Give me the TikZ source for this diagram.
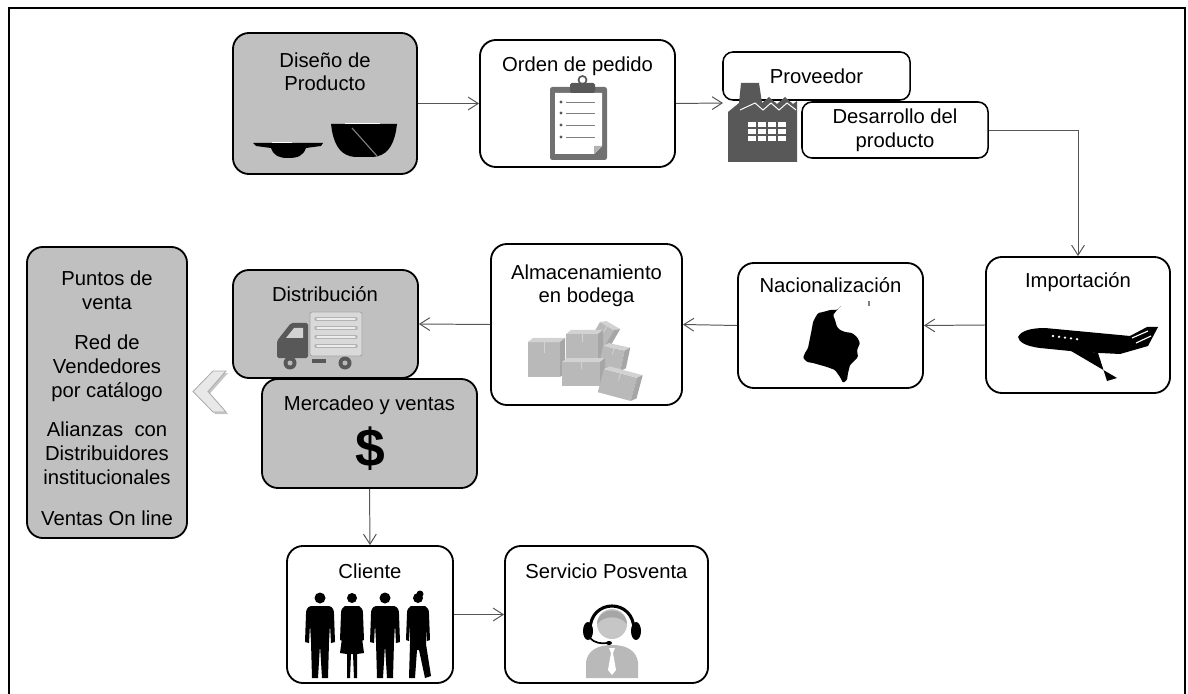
\documentclass[tikz,border=0pt]{standalone}
\usepackage{fontspec}
\setmainfont{Liberation Sans}
\usetikzlibrary{arrows.meta}
\definecolor{cajagris}{RGB}{192,192,192}
\definecolor{lineagris}{RGB}{85,85,85}
\definecolor{iconogris}{RGB}{88,88,88}

\begin{document}
\begin{tikzpicture}[x=0.025cm, y=-0.025cm]
\tikzset{every node/.style={font=\fontsize{14.4}{17}\selectfont},
  caja/.style={draw, line width=1.3pt, rounded corners=0.4cm, inner sep=0pt, fill=white},
  cajagr/.style={caja, fill=cajagris},
  cajita/.style={draw, line width=1.1pt, rounded corners=0.25cm, inner sep=0pt, fill=white, align=center},
  titulo/.style={anchor=base, align=center, inner sep=0pt},
  flecha/.style={draw=lineagris, line width=0.7pt, -{Straight Barb[length=0.25cm, width=0.32cm]}}}
\clip (0,0) rectangle (1188,694);
\draw[line width=1.5pt] (9,8) rectangle (1185,720);

% cajas (el texto de varias lineas va anclado en su ultima linea)
\node[cajagr, minimum width=4.6cm, minimum height=3.525cm] (diseno) at (325,103.5) {};
\node[titulo] (tdiseno) at (325,91) {Diseño de\\Producto};
\node[caja, minimum width=4.875cm, minimum height=3.175cm] (orden) at (577.5,103.5) {};
\node[titulo] (torden) at (577.5,72) {Orden de pedido};
\node[cajita, minimum width=4.675cm, minimum height=1.2cm] (proveedor) at (816.5,76) {Proveedor};
\node[caja, minimum width=4.6cm, minimum height=3.4cm] (importacion) at (1078,325) {};
\node[titulo] (timportacion) at (1078,288) {Importación};
\node[caja, minimum width=4.625cm, minimum height=3.125cm] (nacional) at (830.5,325.5) {};
\node[titulo] (tnacional) at (830.5,293) {Nacionalización};
\node[caja, minimum width=4.775cm, minimum height=4.025cm] (almacen) at (586.5,324.5) {};
\node[titulo] (talmacen) at (586.5,303) {Almacenamiento\\en bodega};
\node[cajagr, minimum width=4.625cm, minimum height=2.7cm] (distrib) at (325.5,324) {};
\node[titulo] (tdistrib) at (325,302) {Distribución};
\node[cajagr, minimum width=5.375cm, minimum height=2.725cm] (mercadeo) at (369.5,433.5) {};
\node[titulo] (tmercadeo) at (369.5,410) {Mercadeo y ventas};
\node[cajagr, minimum width=4cm, minimum height=7.275cm] (puntos) at (107,392.5) {};
\node[titulo] (tpuntos) at (107,525) {Puntos de\\venta\\[11pt]Red de\\Vendedores\\por catálogo\\[11pt]Alianzas~ con\\Distribuidores\\institucionales\\[12pt]Ventas On line};
\node[caja, minimum width=4.15cm, minimum height=3.425cm] (cliente) at (370,614.5) {};
\node[titulo] (tcliente) at (370,578) {Cliente};
\node[caja, minimum width=5.075cm, minimum height=3.425cm] (servicio) at (606.5,614.5) {};
\node[titulo] (tservicio) at (606.5,578) {Servicio Posventa};

% platos
\fill (253,143) -- (323,143) -- (321,146) -- (306,148) .. controls (303,156) and (298,158) .. (288,158) .. controls (279,158) and (274,156) .. (271,148) -- (256,146) -- cycle;
\draw[white, line width=0.5pt] (272,142.5) -- (292,142.5);
\fill (331,124) -- (397,124) -- (396,131) .. controls (393,147) and (386,156) .. (373,157) -- (355,157) .. controls (342,156) and (335,147) .. (332,131) -- cycle;
\draw[white, line width=0.6pt] (345,123.5) -- (380,123.5);
\draw[gray, line width=0.8pt] (352,128) -- (377,156);

% portapapeles
\fill[iconogris!85, rounded corners=0.06cm] (550,87) rectangle (607,160);
\fill[white] (555,93) -- (602,93) -- (602,146) -- (594,154) -- (555,154) -- cycle;
\fill[gray!60] (602,146) -- (594,154) -- (594,146) -- cycle;
\fill[iconogris, rounded corners=0.04cm] (570,83) rectangle (595,93);
\draw[iconogris, line width=1.2pt] (582.5,80) circle (4);
\foreach \y in {102,113,125,137} {
  \fill[iconogris] (561,\y) circle (1.6);
  \draw[gray, line width=0.6pt] (566,\y) -- (595,\y);
}

% fabrica
\coordinate (fabrica) at (723,103);
\fill[iconogris] (741,83) -- (759,83) -- (762,103) -- (769,97) -- (777,104) -- (785,97) -- (793,104) -- (797,101) -- (797,162) -- (728,162) -- (728,112) -- (739,103) -- cycle;
\draw[white, line width=0.7pt] (740,110) -- (755,103) -- (763,110) -- (771,103) -- (779,110) -- (787,103) -- (796,110);
\foreach \i in {0,...,3}
  \foreach \j in {0,...,2}
    \fill[white] (748+10*\i,122+7*\j) rectangle +(8,5);
\node[cajita, minimum width=4.65cm, minimum height=1.4cm] (desarrollo) at (895,130) {Desarrollo del\\producto};

% avion
\fill (1018,337) .. controls (1021,331) and (1030,328) .. (1045,328) -- (1130,336) -- (1147,327) -- (1158,327) -- (1148,346) -- (1120,354) -- (1080,352) -- (1040,348) .. controls (1025,346) and (1019,342) .. (1018,337) -- cycle;
\fill (1066,348) -- (1117,378) -- (1107,381) -- (1098,353) -- cycle;
\draw[white, line width=0.8pt] (1132,338) -- (1148,331);
\draw[white, line width=0.8pt] (1136,343) -- (1151,336);
\foreach \i in {0,...,4}
  \fill[white] (1053+6*\i,336+0.8*\i) circle (1.3);

% mapa
\fill[rounded corners=0.03cm] (842,305) -- (837,310) -- (830,310) -- (823,312) -- (818,313) -- (815,318) -- (813,322) -- (812,328) -- (810,338) -- (808,348) -- (805,353) -- (803,358) -- (807,362) -- (813,363) -- (820,365) -- (827,367) -- (835,370) -- (840,377) -- (843,383) -- (847,380) -- (848,373) -- (850,365) -- (855,360) -- (858,357) -- (857,350) -- (860,343) -- (857,337) -- (852,333) -- (845,332) -- (840,330) -- (837,327) -- (835,320) -- (833,315) -- (837,310) -- cycle;
\fill[gray] (868,301) rectangle (869.5,306);

% cajas de carton
\foreach \x/\y/\w/\h/\r in {600/322/16/40/-30, 528/342/32/35/0, 566/334/32/28/0, 603/346/22/21/-12, 562/362/38/24/0, 604/369/34/24/-15} {
  \begin{scope}[shift={(\x,\y)}, rotate=\r]
    \fill[gray!55] (0,0) rectangle (\w,\h);
    \fill[gray!35] (0,0) -- (5,-4) -- (\w+5,-4) -- (\w,0) -- cycle;
    \fill[gray!70] (\w,0) -- (\w+5,-4) -- (\w+5,\h-4) -- (\w,\h) -- cycle;
    \draw[gray!35, line width=0.6pt] (\w/2,0) -- (\w/2,\h*0.3);
  \end{scope}
}

% camion
\fill[gray!30, draw=gray!70, line width=0.6pt, rounded corners=0.05cm] (310,312) rectangle (362,356);
\foreach \y in {319,328,337,346} {
  \draw[gray!60, line width=2.4pt, line cap=round] (316,\y) -- (356,\y);
  \draw[gray!15, line width=1pt, line cap=round] (317,\y) -- (355,\y);
}
\fill[iconogris, rounded corners=0.04cm] (308,323) -- (291,323) -- (280,337) -- (277,341) -- (277,358) -- (308,358) -- cycle;
\fill[gray!35] (286,338) -- (294,328) -- (303,328) -- (303,338) -- cycle;
\fill[iconogris] (312,359) rectangle (326,363);
\foreach \x in {290,345} {
  \fill[iconogris] (\x,363) circle (6.5);
  \fill[gray!55] (\x,363) circle (2.5);
}

% signo de pesos
\node[font=\fontsize{38}{40}\selectfont\bfseries] (dolar) at (370,449) {\$};

% personas
\foreach \x in {320,385} {
  \fill (\x,598) circle (5.5);
  \fill[shift={(\x,598)}] (-9,8) -- (9,8) .. controls (13,9) and (14,12) .. (14,16) -- (15,44) -- (11,45) -- (10,26) -- (9,44) -- (8,80) -- (2,80) -- (0,47) -- (-2,80) -- (-8,80) -- (-9,44) -- (-10,26) -- (-11,45) -- (-15,44) -- (-14,16) .. controls (-14,12) and (-13,9) .. (-9,8) -- cycle;
}
\fill (352,598) circle (5);
\fill[shift={(352,598)}] (-7,8) -- (7,8) .. controls (10,9) and (11,12) .. (11,16) -- (12,42) -- (9,43) -- (8,25) -- (12,55) -- (5,56) -- (5,80) -- (2,80) -- (1,56) -- (-1,56) -- (-2,80) -- (-5,80) -- (-5,56) -- (-12,55) -- (-8,25) -- (-9,43) -- (-12,42) -- (-11,16) .. controls (-11,12) and (-10,9) .. (-7,8) -- cycle;
\fill (418,598) circle (5);
\fill (420,594) circle (3.5);
\fill[shift={(418,598)}] (-7,8) -- (7,8) .. controls (10,9) and (11,12) .. (11,16) -- (12,42) -- (9,43) -- (8,26) -- (8,46) -- (13,78) -- (7,80) -- (1,52) -- (-1,52) -- (-3,80) -- (-9,80) -- (-8,46) -- (-8,26) -- (-9,43) -- (-12,42) -- (-11,16) .. controls (-11,12) and (-10,9) .. (-7,8) -- cycle;

% asesor con audifonos
\fill[gray!55] (586,678) -- (586,662) .. controls (588,650) and (598,645) .. (612,645) .. controls (626,645) and (636,650) .. (638,662) -- (638,678) -- cycle;
\fill[white] (609,648) -- (615,648) -- (613,653) -- (616,670) -- (612,675) -- (608,670) -- (611,653) -- cycle;
\fill[gray!45] (612,624) circle (15);
\fill[gray!70] (597,624) .. controls (598,606) and (626,606) .. (627,624) .. controls (620,615) and (604,615) .. (597,624) -- cycle;
\draw[line width=2.2pt] (590,630) .. controls (590,598) and (634,598) .. (634,630);
\fill (588,631) ellipse [x radius=5, y radius=9];
\fill (636,631) ellipse [x radius=5, y radius=9];
\draw[line width=1.2pt] (590,638) .. controls (594,643) and (602,644) .. (607,643);
\fill (609,643) ellipse [x radius=3, y radius=2];

% flecha lateral
\fill[gray!45] (215,373) -- (228,373) -- (210,393.5) -- (228,414) -- (215,414) -- (195,393.5) -- cycle;
\fill[gray!18, draw=gray!65, line width=0.6pt] (213,371) -- (226,371) -- (208,391.5) -- (226,412) -- (213,412) -- (193,391.5) -- cycle;

% conectores
\draw[flecha] (diseno.east) -- (orden.west);
\draw[flecha] (orden.east) -- (fabrica);
\draw[flecha] (desarrollo.east) -| (importacion.north);
\draw[flecha] (importacion.west) -- (nacional.east);
\draw[flecha] (nacional.west) -- (almacen.east);
\draw[flecha] (almacen.west) -- (distrib.east);
\draw[flecha] (mercadeo.south) -- (cliente.north);
\draw[flecha] (cliente.east) -- (servicio.west);
\end{tikzpicture}
\end{document}
